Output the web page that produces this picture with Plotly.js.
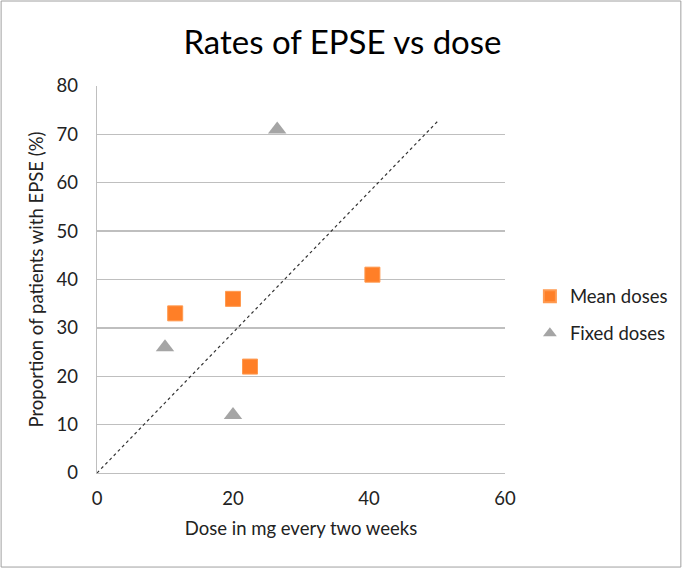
<!DOCTYPE html>
<html><head><meta charset="utf-8">
<script src="https://cdn.plot.ly/plotly-3.0.1.min.js"></script>
<style>body{margin:0;background:#fff}#c{width:685px;height:569px}</style>
</head><body><div id="c"></div>
<script>
const meanX = [11.5, 20, 22.5, 40.5];
const meanY = [33, 36, 22, 41];
const fixedX = [10, 20, 26.5];
const fixedY = [26, 12, 71];
const lineX = [0, 50.3];
const lineY = [0, 73];
const xTicks = [0, 20, 40, 60];
const yTicks = [0, 10, 20, 30, 40, 50, 60, 70, 80];

const font = 'Lato, "Open Sans", sans-serif';
const data = [
  {x: lineX, y: lineY, mode: 'lines', line: {color: '#333', width: 1.2, dash: 'dot'}, showlegend: false, hoverinfo: 'skip'},
  {x: meanX, y: meanY, mode: 'markers', name: 'Mean doses', legendgroup: 'a', marker: {symbol: 'square', size: 15, color: '#FF7F27', line: {color: '#ff9a50', width: 1}}},
  {x: fixedX, y: fixedY, mode: 'markers', name: 'Fixed doses', legendgroup: 'b', marker: {symbol: 'triangle-up', size: 16, color: '#A5A5A5'}}
];
const layout = {
  width: 685, height: 569,
  margin: {l: 97, r: 180, t: 86, b: 96, autoexpand: false},
  paper_bgcolor: '#fff', plot_bgcolor: '#fff',
  font: {family: font, color: '#222', size: 18},
  title: {text: 'Rates of EPSE vs dose', font: {size: 33, color: '#000', family: font}, x: 0.5, xanchor: 'center', y: 0.925, yanchor: 'middle'},
  xaxis: {range: [0, 60], tickvals: xTicks, ticktext: xTicks.map(String), showgrid: false, zeroline: false,
          showline: true, linecolor: '#BFBFBF', linewidth: 1.3, ticks: '', ticklen: 0, ticklabelstandoff: 8,
          tickfont: {size: 18.5},
          title: {text: 'Dose in mg every two weeks', font: {size: 18.5}, standoff: 14}, fixedrange: true},
  yaxis: {range: [0, 80], tickvals: yTicks, ticktext: yTicks.map(String), showgrid: true, gridcolor: '#BFBFBF', gridwidth: 1.3,
          zeroline: false, showline: true, linecolor: '#BFBFBF', linewidth: 1.3, ticks: '', ticklen: 0, ticklabelstandoff: 14,
          tickfont: {size: 18.5},
          title: {text: 'Proportion of patients with EPSE (%)', font: {size: 18.5}, standoff: 8}, fixedrange: true},
  legend: {x: 1.061, xanchor: 'left', y: 0.408, yanchor: 'middle', font: {size: 18.5}, itemsizing: 'constant', tracegroupgap: 10, bgcolor: 'rgba(0,0,0,0)'},
  shapes: [{type: 'rect', xref: 'paper', yref: 'paper', x0: -0.235, x1: 1.431, y0: -0.243, y1: 1.2196, line: {color: '#A0A0A0', width: 1}}],
  showlegend: true
};
Plotly.newPlot('c', data, layout, {displayModeBar: false, staticPlot: true});
</script></body></html>
